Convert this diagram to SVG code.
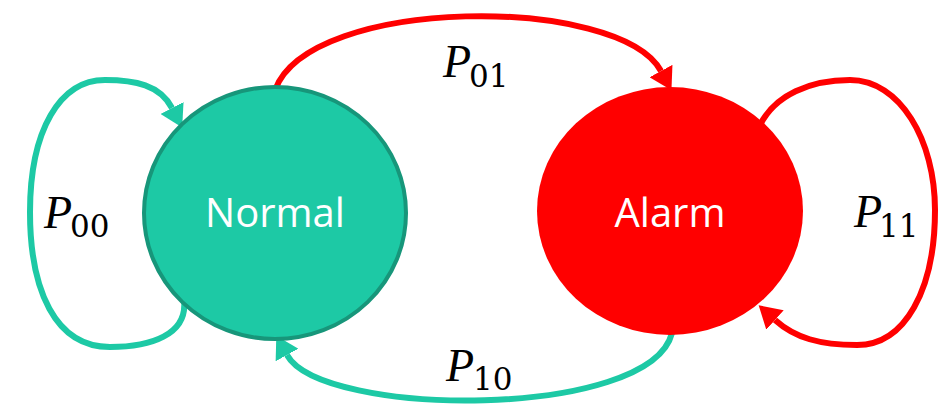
<svg xmlns="http://www.w3.org/2000/svg" width="948" height="407" viewBox="0 0 948 407">
<style>
.lbl{font-family:"Open Sans","Noto Sans",sans-serif;font-size:40px;fill:#fff;text-anchor:middle}
.p{font-family:"Liberation Serif",serif;font-style:italic;font-size:46px;fill:#000}
.s{font-family:"DejaVu Serif",serif;font-size:31px;fill:#000}
.teal{fill:none;stroke:#1DC9A5;stroke-width:6}
.red{fill:none;stroke:#FF0000;stroke-width:6}
</style>
<defs>
<marker id="ahT" viewBox="0 -13 22 26" refX="0" refY="0" markerWidth="22" markerHeight="26" markerUnits="userSpaceOnUse" orient="auto"><path d="M0,-13 L22,0 L0,13 z" fill="#1DC9A5"/></marker>
<marker id="ahR" viewBox="0 -13 22 26" refX="0" refY="0" markerWidth="22" markerHeight="26" markerUnits="userSpaceOnUse" orient="auto"><path d="M0,-13 L22,0 L0,13 z" fill="#FF0000"/></marker>
</defs>
<g id="connectors">
<path id="e01" class="red" d="M275 90 C310 -5 620 -5 661 71" marker-end="url(#ahR)"/>
<path id="e10" class="teal" d="M672 333 C650 420 322 418 287 355" marker-end="url(#ahT)"/>
<path id="e00" class="teal" d="M184 300 C188 335 150 347 110 347 C55 347 30 290 30 212 C30 130 60 80 105 80 C135 80 160 85 172 108" marker-end="url(#ahT)"/>
<path id="e11" class="red" d="M760 125 C775 95 810 80 850 80 C900 80 935 140 935 210 C935 290 905 345 857 345 C820 345 795 338 775 320" marker-end="url(#ahR)"/>
</g>
<g id="normal">
<ellipse cx="275" cy="213" rx="131" ry="126" fill="#1DC9A5" stroke="#17967A" stroke-width="4"/>
<text class="lbl" x="275" y="227">Normal</text>
</g>
<g id="alarm">
<ellipse cx="670" cy="211" rx="133" ry="124" fill="#FF0000"/>
<text class="lbl" x="670" y="227">Alarm</text>
</g>
<g id="labels">
<text x="443" y="77"><tspan class="p">P</tspan><tspan class="s" x="469" y="87">01</tspan></text>
<text x="44" y="228"><tspan class="p">P</tspan><tspan class="s" x="70" y="237">00</tspan></text>
<text x="854" y="227"><tspan class="p">P</tspan><tspan class="s" x="879" y="237">11</tspan></text>
<text x="446" y="381"><tspan class="p">P</tspan><tspan class="s" x="473" y="390">10</tspan></text>
</g>
</svg>
